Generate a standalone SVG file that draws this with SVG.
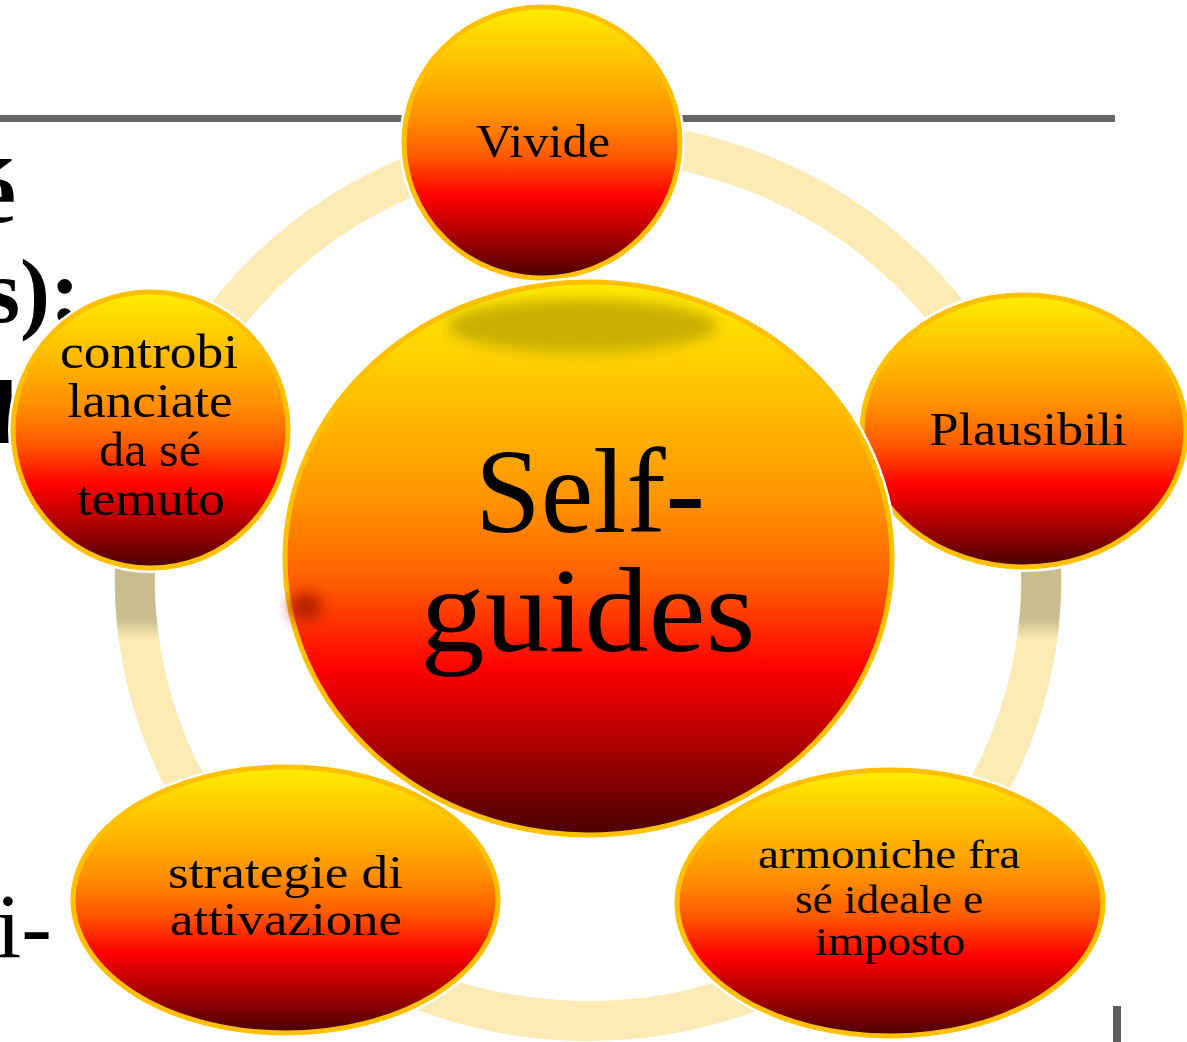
<svg xmlns="http://www.w3.org/2000/svg" width="1187" height="1042" viewBox="0 0 1187 1042">
<defs>
<linearGradient id="fire" x1="0" y1="0" x2="0" y2="1">
<stop offset="0" stop-color="#ffee00"/>
<stop offset="0.2" stop-color="#ffc200"/>
<stop offset="0.4" stop-color="#ff9200"/>
<stop offset="0.55" stop-color="#ff5a00"/>
<stop offset="0.7" stop-color="#ff0000"/>
<stop offset="0.86" stop-color="#a00000"/>
<stop offset="1" stop-color="#480000"/>
</linearGradient>
<linearGradient id="shadeL" gradientUnits="userSpaceOnUse" x1="0" y1="566" x2="0" y2="640">
<stop offset="0" stop-color="#c8bb8e"/>
<stop offset="0.72" stop-color="#cbbe91"/>
<stop offset="1" stop-color="#fdebb5"/>
</linearGradient>
<filter id="blur" x="-50%" y="-50%" width="200%" height="200%">
<feGaussianBlur stdDeviation="7"/>
</filter>
<style>
.halo{fill:none;stroke:#ffffff;stroke-width:10}
.ball{fill:url(#fire);stroke:#ffc000;stroke-width:5}
.t{font-family:"Liberation Serif","Times New Roman",serif;fill:#000;text-anchor:middle}
.bg{font-family:"Liberation Serif","Times New Roman",serif;fill:#000}
</style>
</defs>
<rect width="1187" height="1042" fill="#ffffff"/>
<g id="background">
<rect x="0" y="115" width="1115" height="7" fill="#666666"/>
<rect x="1113" y="1006" width="8" height="36" fill="#5f5f5f"/>
<text class="bg" x="16" y="222" font-size="90" font-weight="bold" text-anchor="end">é</text>
<text class="bg" x="80" y="322" font-size="90" font-weight="bold" text-anchor="end">s):</text>
<text class="bg" x="17" y="443" font-size="90" font-weight="bold" text-anchor="end">d</text>
<text class="bg" x="52" y="957" font-size="92" text-anchor="end">i-</text>
</g>
<g id="connectors">
<ellipse cx="588" cy="581" rx="453" ry="440" fill="none" stroke="#fdebb5" stroke-width="40"/>
<path d="M 135 565 A 453 440 0 0 0 139 640" fill="none" stroke="url(#shadeL)" stroke-width="40"/>
<path d="M 1041 565 A 453 440 0 0 1 1037 640" fill="none" stroke="url(#shadeL)" stroke-width="40"/>
</g>
<g id="node-vivide">
<ellipse class="halo" cx="542" cy="142.5" rx="138" ry="135.5"/>
<ellipse class="ball" cx="542" cy="142.5" rx="138" ry="135.5"/>
<text class="t" x="543" y="157" font-size="46" textLength="134" lengthAdjust="spacingAndGlyphs">Vivide</text>
</g>
<g id="node-plausibili">
<ellipse class="halo" cx="1024" cy="431" rx="162" ry="136"/>
<ellipse class="ball" cx="1024" cy="431" rx="162" ry="136"/>
<text class="t" x="1028" y="445" font-size="46" textLength="197" lengthAdjust="spacingAndGlyphs">Plausibili</text>
</g>
<g id="node-controbilanciate">
<ellipse class="halo" cx="150.5" cy="430" rx="137.5" ry="138"/>
<ellipse class="ball" cx="150.5" cy="430" rx="137.5" ry="138"/>
<text class="t" x="149" y="368" font-size="48" textLength="178" lengthAdjust="spacingAndGlyphs">controbi</text>
<text class="t" x="150" y="417" font-size="48" textLength="165" lengthAdjust="spacingAndGlyphs">lanciate</text>
<text class="t" x="150" y="466" font-size="48" textLength="102" lengthAdjust="spacingAndGlyphs">da sé</text>
<text class="t" x="151" y="515" font-size="48" textLength="148" lengthAdjust="spacingAndGlyphs">temuto</text>
</g>
<g id="node-strategie">
<ellipse class="halo" cx="285.5" cy="900" rx="212.5" ry="133"/>
<ellipse class="ball" cx="285.5" cy="900" rx="212.5" ry="133"/>
<text class="t" x="285.5" y="888" font-size="46" textLength="235" lengthAdjust="spacingAndGlyphs">strategie di</text>
<text class="t" x="286" y="935" font-size="46" textLength="232" lengthAdjust="spacingAndGlyphs">attivazione</text>
</g>
<g id="node-armoniche">
<ellipse class="halo" cx="890" cy="903" rx="213" ry="133"/>
<ellipse class="ball" cx="890" cy="903" rx="213" ry="133"/>
<text class="t" x="889" y="868" font-size="40" textLength="262" lengthAdjust="spacingAndGlyphs">armoniche fra</text>
<text class="t" x="889" y="913" font-size="40" textLength="188" lengthAdjust="spacingAndGlyphs">sé ideale e</text>
<text class="t" x="890" y="955" font-size="40" textLength="150" lengthAdjust="spacingAndGlyphs">imposto</text>
</g>
<g id="node-selfguides">
<ellipse class="halo" cx="588.5" cy="558.5" rx="303.5" ry="276.5"/>
<ellipse class="ball" cx="588.5" cy="558.5" rx="303.5" ry="276.5"/>
<ellipse cx="582" cy="326" rx="135" ry="27" fill="#c9b000" filter="url(#blur)"/>
<ellipse cx="306" cy="607" rx="16" ry="15" fill="#b82400" filter="url(#blur)"/>
<text class="t" x="590" y="532" font-size="120" textLength="230" lengthAdjust="spacingAndGlyphs">Self-</text>
<text class="t" x="588" y="651" font-size="120" textLength="335" lengthAdjust="spacingAndGlyphs">guides</text>
</g>
</svg>
